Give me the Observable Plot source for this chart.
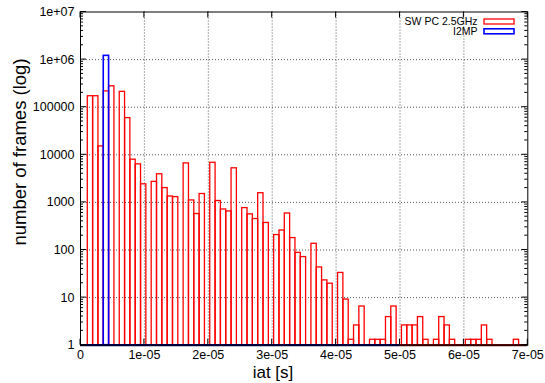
<!DOCTYPE html>
<html><head><meta charset="utf-8">
<script src="https://cdn.jsdelivr.net/npm/d3@7"></script>
<script src="https://cdn.jsdelivr.net/npm/@observablehq/plot@0.6"></script>
<style>
html,body{margin:0;padding:0;background:#fff;}
#chart{width:545px;height:383px;}
</style></head><body><div id="chart"></div>
<script>
// ---- data ----
const seriesNames = ["SW PC 2.5GHz", "I2MP"];
const seriesColors = ["#ff0000", "#0000ff"];
const binStart = 1.14e-6;     // left edge of first bin [s]
const binWidth = 0.8333e-6;   // bin width [s]
// SW PC 2.5GHz frame counts per bin (null = empty bin)
const swValues = [
  170000,170000,15000,215000,275000,null,
  210000,59000,7900,6300,2400,null,
  2700,3900,2000,1330,1290,null,
  6600,1100,570,1500,null,
  6800,1070,710,645,5200,null,
  760,560,447,1560,370,null,
  206,257,585,178,87,71,null,
  135,43,23,19.6,null,
  33,9.1,1.3,2.6,6.5,null,
  1.3,1.3,1.3,3.9,6.5,null,
  2.6,2.6,2.6,3.9,1.3,null,
  1.3,3.9,2.6,1.3,null,null,
  1.3,1.3,1.3,2.6,1.3,null,null,null,null,
  1.3
];
// I2MP: bin indices and counts
const i2mpBins = [3];
const i2mpValues = [1200000];
// baseline spans (zero-height boxes along the bottom)
const baselineFrom = [0, 5e-5];
const baselineTo = [5e-5, 7e-5];
const baselineColors = ["#00006e", "#7a0000"];

const xTicks = [0, 1e-5, 2e-5, 3e-5, 4e-5, 5e-5, 6e-5, 7e-5];
const xTickLabels = ["0","1e-05","2e-05","3e-05","4e-05","5e-05","6e-05","7e-05"];
const yTicks = [1, 10, 100, 1000, 10000, 100000, 1e6, 1e7];
const yTickLabels = ["1","10","100","1000","10000","100000","1e+06","1e+07"];
const xTitle = "iat [s]";
const yTitle = "number of frames (log)";

// ---- build tables ----
const swData = swValues.map((v, k) => ({k, v}))
  .filter(d => d.v != null)
  .map(d => ({x1: binStart + d.k * binWidth, x2: binStart + (d.k + 1) * binWidth, y1: 1, y2: d.v}));
const i2mpData = i2mpBins.map((k, i) => ({x1: binStart + k * binWidth, x2: binStart + (k + 1) * binWidth, y1: 1, y2: i2mpValues[i]}));
const baseData = baselineFrom.map((f, i) => ({x1: f, x2: baselineTo[i], y: 1, c: baselineColors[i]}));
const minorY = [];
for (let d = 1; d < 1e7; d *= 10) for (let m = 2; m <= 9; m++) minorY.push(d * m);

const font = "'Liberation Sans', Arial, sans-serif";
const plot = Plot.plot({
  width: 545, height: 383,
  marginLeft: 80, marginRight: 17.7, marginTop: 11.5, marginBottom: 38.3,
  style: {fontFamily: font, fontSize: "12.5px", background: "#fff", color: "#000", overflow: "visible"},
  x: {domain: [0, 7e-5], axis: null},
  y: {type: "log", domain: [1, 1e7], axis: null},
  marks: [
    Plot.gridX(xTicks.slice(1, -1), {stroke: "#444", strokeOpacity: 0.9, strokeWidth: 1, strokeDasharray: "1,2"}),
    Plot.gridY(yTicks.slice(1, -1), {stroke: "#444", strokeOpacity: 0.9, strokeWidth: 1, strokeDasharray: "1,2"}),
    Plot.rect(swData, {x1: "x1", x2: "x2", y1: "y1", y2: "y2", fill: "none", stroke: seriesColors[0], strokeWidth: 1.3}),
    Plot.rect(i2mpData, {x1: "x1", x2: "x2", y1: "y1", y2: "y2", fill: "none", stroke: seriesColors[1], strokeWidth: 1.6}),
    Plot.ruleY(baseData, {x1: "x1", x2: "x2", y: "y", stroke: "c", strokeWidth: 2.2}),
    Plot.frame({stroke: "#000", strokeWidth: 1}),
    Plot.axisX(xTicks, {anchor: "bottom", tickSize: 0, tickPadding: 4.5, fontSize: 12.5,
      tickFormat: d => xTickLabels[xTicks.indexOf(d)]}),
    Plot.axisY(yTicks, {anchor: "left", tickSize: 0, tickPadding: 6, fontSize: 12.5,
      tickFormat: d => yTickLabels[yTicks.indexOf(d)]})
  ]
});
document.getElementById("chart").appendChild(plot);

// inward ticks via the plot's own scales
const sx = plot.scale("x"), sy = plot.scale("y");
const svg = d3.select(plot);
const L = sx.apply(0), R = sx.apply(7e-5), T = sy.apply(1e7), B = sy.apply(1);
const g = svg.append("g").attr("stroke", "#000").attr("stroke-width", 1);
xTicks.forEach(v => {
  const x = sx.apply(v);
  g.append("line").attr("x1", x).attr("x2", x).attr("y1", B).attr("y2", B - 6);
  g.append("line").attr("x1", x).attr("x2", x).attr("y1", T).attr("y2", T + 6);
});
yTicks.forEach(v => {
  const y = sy.apply(v);
  g.append("line").attr("x1", L).attr("x2", L + 6).attr("y1", y).attr("y2", y);
  g.append("line").attr("x1", R).attr("x2", R - 6).attr("y1", y).attr("y2", y);
});
minorY.forEach(v => {
  const y = sy.apply(v);
  g.append("line").attr("x1", L).attr("x2", L + 3).attr("y1", y).attr("y2", y);
  g.append("line").attr("x1", R).attr("x2", R - 3).attr("y1", y).attr("y2", y);
});

// axis titles
svg.append("text").text(xTitle).attr("x", 273).attr("y", 378)
  .attr("text-anchor", "middle").attr("font-family", font).attr("font-size", 17).attr("fill", "#000");
svg.append("text").text(yTitle).attr("transform", "translate(26,152) rotate(-90)")
  .attr("text-anchor", "middle").attr("font-family", font).attr("font-size", 18.5).attr("fill", "#000");

// legend
const lg = svg.append("g");
seriesNames.forEach((name, i) => {
  const cy = 21.5 + i * 9.8;
  lg.append("text").text(name).attr("x", 477.5).attr("y", cy).attr("dy", "0.35em")
    .attr("text-anchor", "end").attr("font-family", font).attr("font-size", 10.5).attr("fill", "#000");
  lg.append("rect").attr("x", 484).attr("y", cy - 2.5).attr("width", 30).attr("height", 5)
    .attr("fill", "none").attr("stroke", seriesColors[i]).attr("stroke-width", i ? 1.6 : 1.3);
});
</script></body></html>
